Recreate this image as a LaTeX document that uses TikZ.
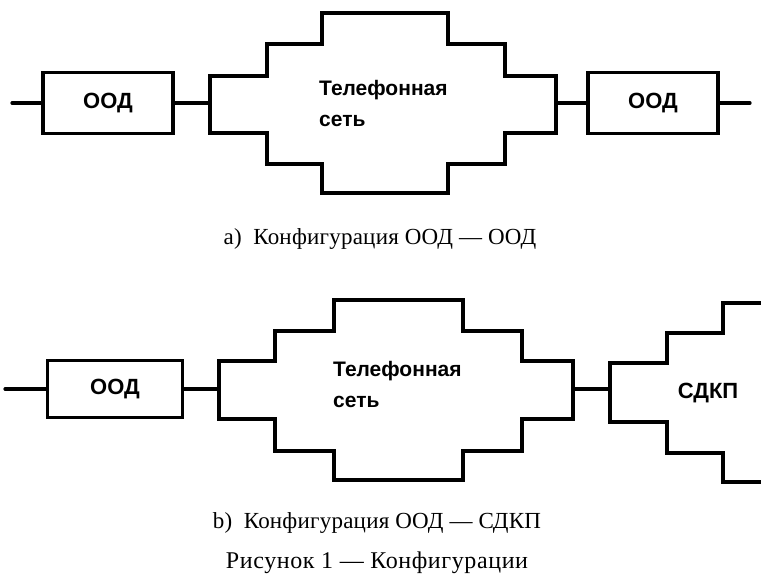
\documentclass[tikz,border=0pt]{standalone}
\usepackage{fontspec}
\setmainfont{Liberation Serif}
\newfontfamily\blockfont{Liberation Sans}
\usepackage{tikz}
\usetikzlibrary{positioning}

\tikzset{
    wire/.style={line width=3.2pt, line cap=round},
    oodbox/.style={draw, line width=3.2pt, minimum width=130pt, minimum height=61pt, inner sep=0pt, font=\blockfont\bfseries\fontsize{22}{26}\selectfont},
    cloudline/.style={line width=3.2pt, line join=miter},
    nettext/.style={anchor=north west, align=left, inner sep=0pt, font=\blockfont\bfseries\fontsize{21}{31}\selectfont},
    capt/.style={inner sep=0pt, font=\fontsize{23}{27}\selectfont\addfontfeature{LetterSpace=1}}
}

\begin{document}
\begin{tikzpicture}[x=1pt, y=-1pt]
    \useasboundingbox (0,0) rectangle (761,586);

    % a) OOD -- OOD
    \coordinate (inA) at (12,103);
    \node[oodbox] (oodA1) at (108,103) {ООД};
    \draw[cloudline] (210,76) -- (267,76) -- (267,44) -- (322,44) -- (322,13)
        -- (448,13) -- (448,44) -- (505,44) -- (505,76) -- (556,76)
        -- (556,133) -- (505,133) -- (505,164) -- (448,164) -- (448,193)
        -- (322,193) -- (322,164) -- (267,164) -- (267,133) -- (210,133) -- cycle;
    \coordinate (netAin) at (210,103);
    \coordinate (netAout) at (556,103);
    \node[nettext] (netA) at (319,80) {Телефонная\\сеть};
    \node[oodbox] (oodA2) at (653,103) {ООД};
    \coordinate (outA) at (750,103);
    \draw[wire] (inA) -- (oodA1);
    \draw[wire] (oodA1) -- (netAin);
    \draw[wire] (netAout) -- (oodA2);
    \draw[wire] (oodA2) -- (outA);
    \node[capt] (captA) at (380,239) {a)\enspace Конфигурация ООД --- ООД};

    % b) OOD -- SDKP
    \coordinate (inB) at (5,389);
    \node[oodbox, minimum width=135pt, minimum height=57pt] (oodB) at (115,389) {ООД};
    \draw[cloudline] (219,361) -- (275,361) -- (275,331) -- (334,331) -- (334,300)
        -- (463,300) -- (463,331) -- (522,331) -- (522,361) -- (573,361)
        -- (573,419) -- (522,419) -- (522,451) -- (463,451) -- (463,480)
        -- (334,480) -- (334,451) -- (275,451) -- (275,419) -- (219,419) -- cycle;
    \coordinate (netBin) at (219,389);
    \coordinate (netBout) at (573,389);
    \node[nettext] (netB) at (333,361) {Телефонная\\сеть};
    \draw[cloudline] (765,303) -- (723,303) -- (723,333) -- (667,333) -- (667,363)
        -- (610,363) -- (610,422) -- (667,422) -- (667,453) -- (723,453)
        -- (723,482) -- (765,482);
    \coordinate (sdkpIn) at (610,389);
    \node[font=\blockfont\bfseries\fontsize{22}{26}\selectfont, inner sep=0pt] (sdkp) at (708,393) {СДКП};
    \draw[wire] (inB) -- (oodB);
    \draw[wire] (oodB) -- (netBin);
    \draw[wire] (netBout) -- (sdkpIn);
    \node[capt] (captB) at (377,523) {b)\enspace Конфигурация ООД --- СДКП};

    \node[capt, font=\fontsize{24}{28}\selectfont\addfontfeature{LetterSpace=2.5}] (fig) at (377,563) {Рисунок 1 --- Конфигурации};
\end{tikzpicture}
\end{document}
